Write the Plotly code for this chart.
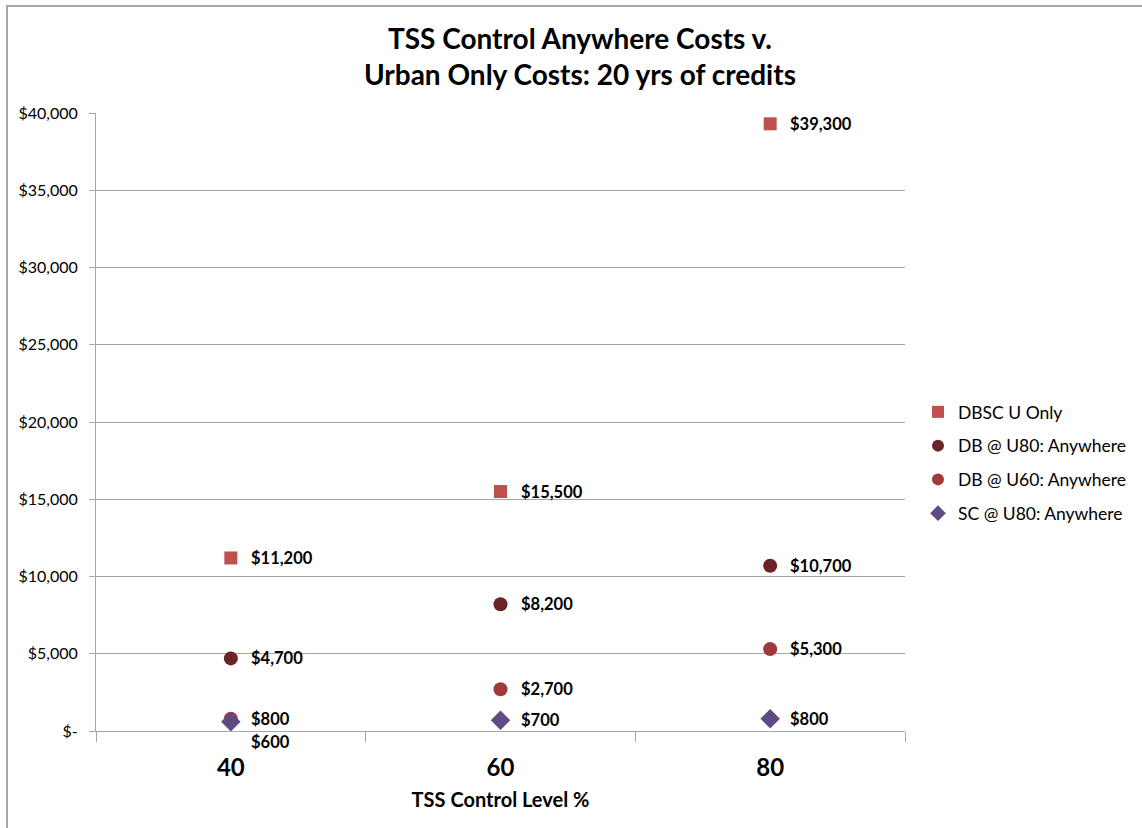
import plotly.graph_objects as go

categories = ["40", "60", "80"]
series_names = ["DBSC U Only", "DB @ U80: Anywhere", "DB @ U60: Anywhere", "SC @ U80: Anywhere"]
dbsc_u_only = [11200, 15500, 39300]
db_u80_anywhere = [4700, 8200, 10700]
db_u60_anywhere = [800, 2700, 5300]
sc_u80_anywhere = [600, 700, 800]
y_ticks = [0, 5000, 10000, 15000, 20000, 25000, 30000, 35000, 40000]

series_values = [dbsc_u_only, db_u80_anywhere, db_u60_anywhere, sc_u80_anywhere]
colors = ["#C0504D", "#6A2425", "#A1393A", "#5F4B84"]
symbols = ["square", "circle", "circle", "diamond"]
sizes = [13, 14, 14, 15]

FONT = "Lato, 'Open Sans', sans-serif"


def money(v):
    return "$-" if v == 0 else "${:,}".format(v)


fig = go.Figure()
for i, (name, vals, c, s, sz) in enumerate(zip(series_names, series_values, colors, symbols, sizes)):
    fig.add_trace(go.Scatter(
        x=categories, y=vals, mode="markers", name=name, legendgroup="g%d" % i,
        marker=dict(color=c, symbol=s, size=sz, line=dict(width=0)),
    ))

# data labels
annotations = []
for name, vals in zip(series_names, series_values):
    for idx, (cat, v) in enumerate(zip(categories, vals)):
        below = (name == "SC @ U80: Anywhere" and cat == "40")
        annotations.append(dict(
            x=idx, y=v, xref="x", yref="y", text="<b>" + money(v) + "</b>",
            showarrow=False, xanchor="left", yanchor="middle",
            xshift=18, yshift=-20 if below else 0,
            font=dict(family=FONT, size=16.5, color="#000000"),
        ))

annotations.append(dict(
    text="<b>TSS Control Anywhere Costs v.<br>Urban Only Costs: 20 yrs of credits</b>",
    xref="paper", yref="paper", x=(580 - 96) / 809, y=1 + (113 - 56) / 618,
    showarrow=False, xanchor="center", yanchor="middle",
    font=dict(family=FONT, size=28, color="#000000"),
))

fig.update_layout(
    width=1142, height=828,
    margin=dict(l=96, r=237, t=113, b=97, autoexpand=False),
    paper_bgcolor="white", plot_bgcolor="white",
    showlegend=True,
    legend=dict(
        xref="container", yref="container",
        x=918 / 1142, y=1 - 394 / 828, xanchor="left", yanchor="top",
        font=dict(family=FONT, size=17.5, color="#000000"),
        tracegroupgap=8, itemsizing="constant",
        bgcolor="rgba(0,0,0,0)",
    ),
    annotations=annotations,
    shapes=[dict(
        type="rect", xref="paper", yref="paper",
        x0=(7 - 96) / 809, x1=(1160 - 96) / 809,
        y0=-(860 - 731) / 618, y1=1 + (113 - 6) / 618,
        line=dict(color="#A6A6A6", width=2), layer="below",
    )],
    xaxis=dict(
        type="category", categoryorder="array", categoryarray=categories,
        range=[-0.5, 2.5], tickson="boundaries", ticks="outside", ticklen=10,
        tickcolor="#A6A6A6", showline=True, linecolor="#A6A6A6", linewidth=1,
        showgrid=False, zeroline=False, ticklabelstandoff=15,
        tickfont=dict(family=FONT, size=24, color="#000000"),
        title=dict(text="<b>TSS Control Level %</b>", standoff=13,
                   font=dict(family=FONT, size=20, color="#000000")),
        tickprefix="<b>", ticksuffix="</b>",
    ),
    yaxis=dict(
        range=[0, 40000], tickvals=y_ticks, ticktext=[money(v) for v in y_ticks],
        ticks="outside", ticklen=6, tickcolor="#A6A6A6",
        showline=True, linecolor="#A6A6A6", linewidth=1, ticklabelstandoff=8,
        showgrid=True, gridcolor="#A6A6A6", gridwidth=1, zeroline=False,
        tickfont=dict(family=FONT, size=16, color="#000000"),
    ),
)

fig.write_html("out.html")
